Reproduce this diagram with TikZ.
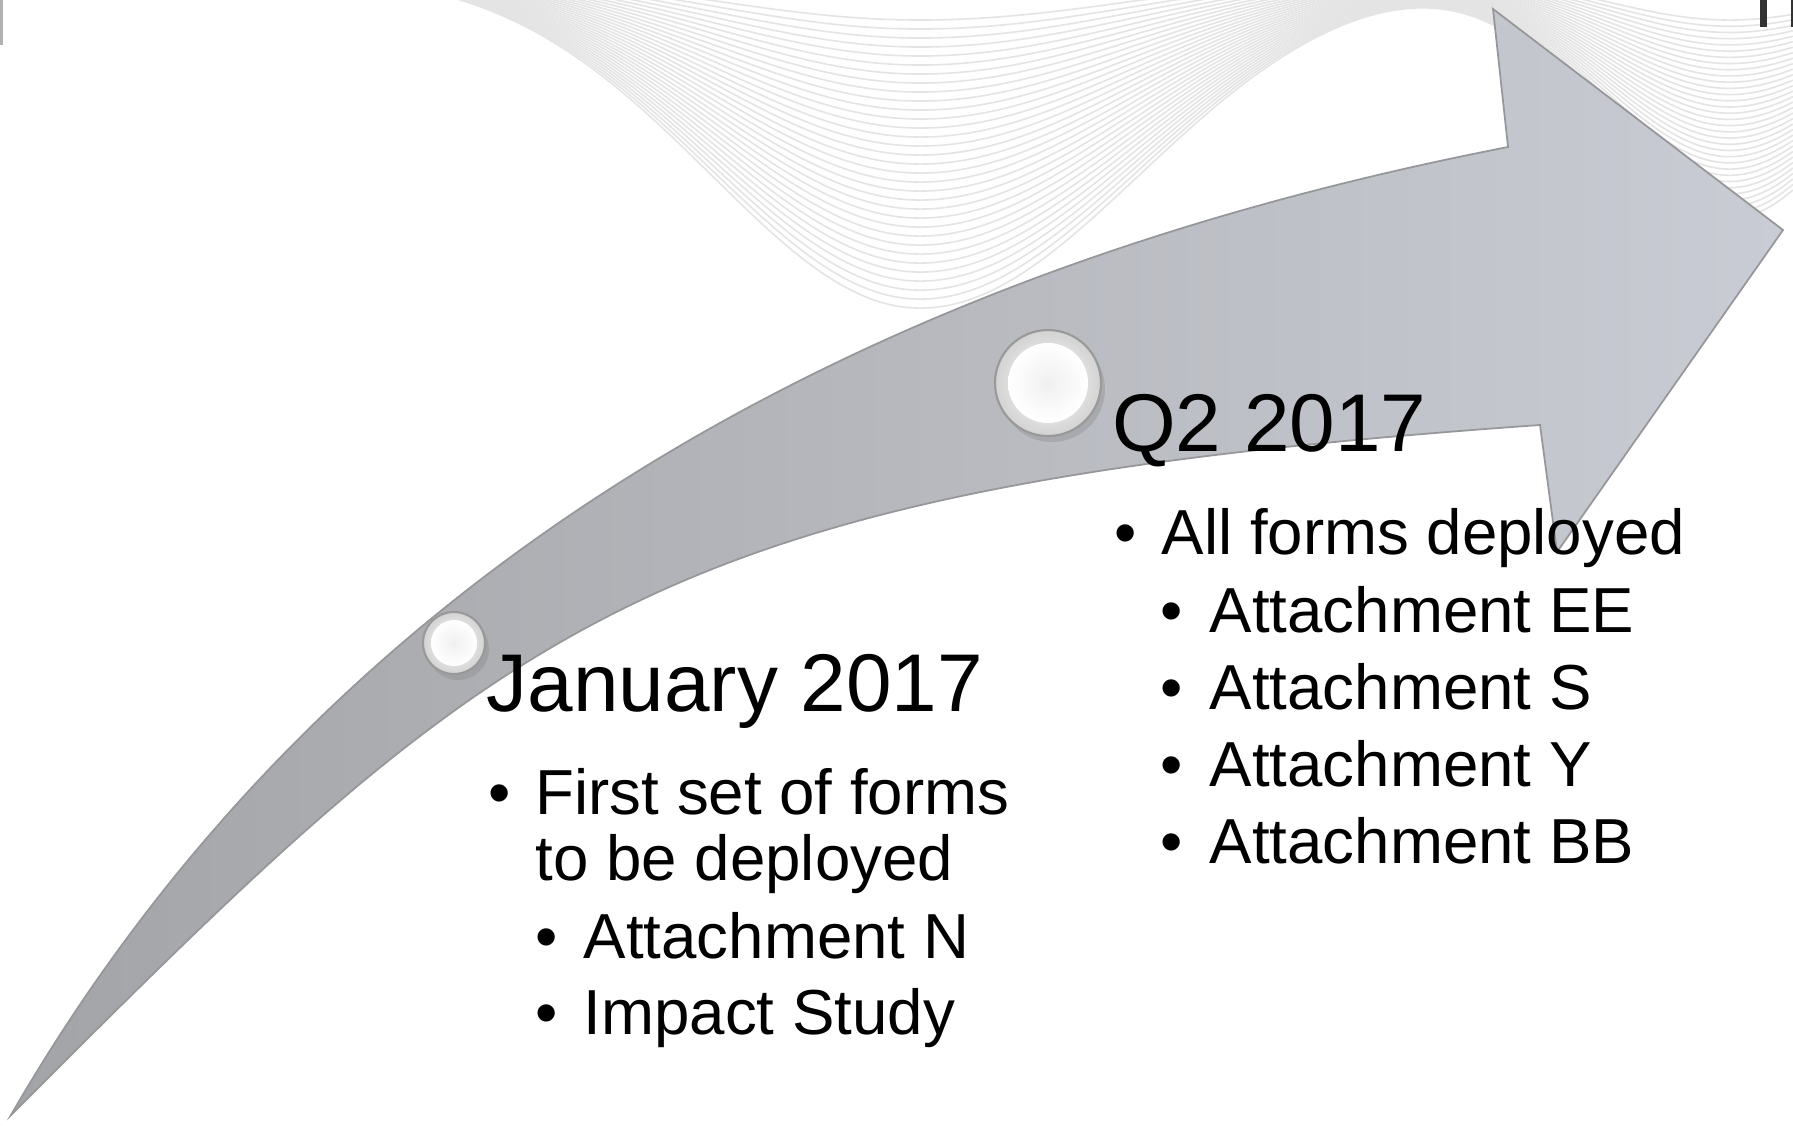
\documentclass[tikz,border=0pt]{standalone}
\usepackage{fontspec}
\setmainfont{Liberation Sans}
\usetikzlibrary{shadows}
\definecolor{arrowdark}{RGB}{163,164,167}
\definecolor{arrowlight}{RGB}{201,204,212}
\definecolor{arrowedge}{RGB}{150,151,155}
\definecolor{wavegray}{RGB}{228,228,228}
\begin{document}
\begin{tikzpicture}[
    head/.style={anchor=base west, inner sep=0pt, font=\fontsize{23.3}{28}\selectfont},
    entry/.style={anchor=base west, inner sep=0pt, font=\fontsize{18.1}{21.7}\selectfont},
    bul/.style={anchor=base, inner sep=0pt, font=\fontsize{18.1}{21.7}\selectfont},
    bead/.style={circle, draw=gray!80, line width=0.6pt, inner sep=0pt, inner color=white, outer color=gray!35,
        drop shadow={opacity=0.3, shadow xshift=0.4mm, shadow yshift=-0.6mm}},
    core/.style={circle, inner sep=0pt, inner color=gray!12, outer color=white},
    wave/.style={wavegray, line width=0.45pt}]
    \useasboundingbox (0,0) rectangle (17.93,-11.25);
    \fill[white] (0,0) rectangle (17.93,-11.25);
    \begin{scope}
        \clip (0,0) rectangle (17.93,-11.25);
        \foreach \k in {0,...,32} {
            \pgfmathsetmacro\depA{0.5+0.09*\k}
            \pgfmathsetmacro\depB{0.5+0.062*\k}
            \draw[wave] plot[domain=3.5:17.93, samples=120, smooth]
                (\x, {0.3-\depA*exp(max(-8,-((\x-9.2)/((\x<9.2)?2.95:3.1))^2))-\depB*exp(max(-8,-((\x-17.3)/1.8)^2))});
        }
    \end{scope}
    \fill[gray!60] (0,0) rectangle (0.03,-0.45);
    \fill[black!80] (17.60,0) rectangle (17.67,-0.27);
    \fill[black!80] (17.91,0) rectangle (17.93,-0.27);

    \shadedraw[left color=arrowdark, right color=arrowlight, draw=arrowedge, line width=0.5pt]
        (0.11,-11.15) .. controls (3.05,-6.06) and (8.04,-2.84) .. (15.08,-1.47)
        -- (14.93,-0.09) -- (17.83,-2.30) -- (15.57,-5.52) -- (15.40,-4.25)
        .. controls (6.42,-4.88) and (5.06,-6.20) .. (0.11,-11.15) -- cycle;

    \node[bead, minimum size=1.06cm] (qbead) at (10.48,-3.83) {};
    \node[core, minimum size=0.80cm] (qcore) at (qbead) {};
    \node[bead, minimum size=0.62cm] (jbead) at (4.54,-6.43) {};
    \node[core, minimum size=0.46cm] (jcore) at (jbead) {};

    \node[head] (q2) at (11.115,-4.517) {Q2 2017};
    \node[bul] (qb1) at (11.26,-5.546) {\textbullet};
    \node[entry] (all) at (11.61,-5.546) {All forms deployed};
    \node[bul] (qb2) at (11.72,-6.324) {\textbullet};
    \node[entry] (ee) at (12.09,-6.324) {Attachment EE};
    \node[bul] (qb3) at (11.72,-7.090) {\textbullet};
    \node[entry] (s) at (12.09,-7.090) {Attachment S};
    \node[bul] (qb4) at (11.72,-7.867) {\textbullet};
    \node[entry] (y) at (12.09,-7.867) {Attachment Y};
    \node[bul] (qb5) at (11.72,-8.634) {\textbullet};
    \node[entry] (bb) at (12.09,-8.634) {Attachment BB};

    \node[head] (jan) at (4.86,-7.113) {January 2017};
    \node[bul] (jb1) at (5.00,-8.142) {\textbullet};
    \node[entry] (first) at (5.35,-8.142) {First set of forms};
    \node[entry] (tobe) at (5.35,-8.805) {to be deployed};
    \node[bul] (jb2) at (5.47,-9.583) {\textbullet};
    \node[entry] (n) at (5.83,-9.583) {Attachment N};
    \node[bul] (jb3) at (5.47,-10.349) {\textbullet};
    \node[entry] (impact) at (5.83,-10.349) {Impact Study};
\end{tikzpicture}
\end{document}
